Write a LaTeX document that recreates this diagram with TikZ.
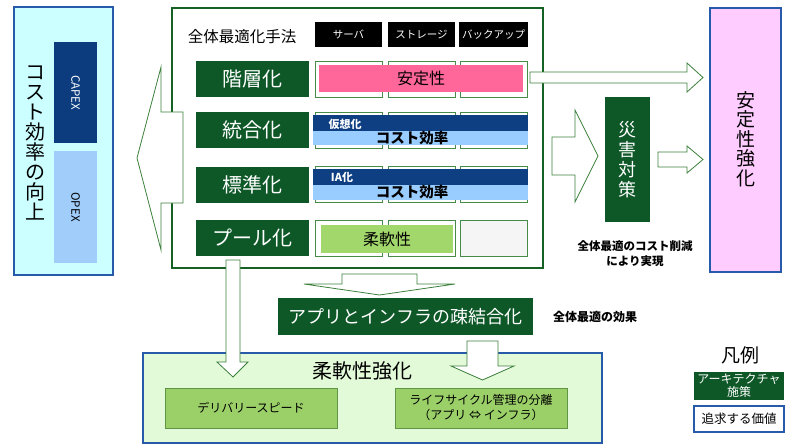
\documentclass[tikz,border=0pt]{standalone}
\usepackage{fontspec}
\setmainfont{Noto Sans CJK JP}
\usepackage{xcolor}
\usetikzlibrary{positioning}

\newcommand{\fsz}[2]{\fontsize{#1}{#2}\selectfont}

\definecolor{archgreen}{RGB}{14,88,40}
\definecolor{framegreen}{RGB}{22,98,36}
\definecolor{cellgreen}{RGB}{70,140,70}
\definecolor{arrowgreen}{RGB}{60,128,60}
\definecolor{valueblue}{RGB}{40,90,170}
\definecolor{capexblue}{RGB}{12,60,125}
\definecolor{opexblue}{RGB}{160,205,250}
\definecolor{bandblue}{RGB}{15,63,131}
\definecolor{bandlight}{RGB}{153,204,255}
\definecolor{stablepink}{RGB}{255,102,153}
\definecolor{costcyan}{RGB}{204,255,255}
\definecolor{stablelilac}{RGB}{255,204,255}
\definecolor{flexfill}{RGB}{226,250,216}
\definecolor{flexbar}{RGB}{162,215,108}
\definecolor{subgreen}{RGB}{155,208,104}
\definecolor{subedge}{RGB}{95,150,70}

\tikzset{
  arch/.style={fill=archgreen, text=white, inner sep=0pt},
  value/.style={draw=valueblue, line width=2pt, inner sep=0pt},
  rowlbl/.style={arch, minimum width=113, minimum height=36, font=\fsz{20}{20}},
  cell/.style={draw=cellgreen, fill=white, line width=0.8pt, minimum width=67, minimum height=36},
  colhead/.style={fill=black, text=white, minimum width=67, minimum height=25, font=\fsz{10.5}{12}},
  band/.style={inner sep=0pt, minimum width=215},
  subbox/.style={draw=subedge, fill=subgreen, line width=0.8pt, minimum width=172, minimum height=40, align=center, font=\fsz{12}{15}},
  blockarrow/.style={draw=arrowgreen, fill=white, line width=0.8pt, line join=miter},
  note/.style={font=\bfseries\fsz{12}{15}, align=center}
}

\begin{document}
\begin{tikzpicture}[x=1pt,y=-1pt]
\useasboundingbox (0,0) rectangle (800,447);

% left: cost efficiency
\node[value, fill=costcyan, minimum width=99, minimum height=268] (cost) at (63.5,141) {};
\node[align=center, font=\fsz{20}{20}] (costtxt) at (35,143) {コ\\ス\\ト\\効\\率\\の\\向\\上};
\node[fill=capexblue, text=white, rotate=-90, minimum width=101, minimum height=43, font=\fsz{11.5}{13}] (capex) at (75.5,92.5) {CAPEX};
\node[fill=opexblue, rotate=-90, minimum width=112, minimum height=43, font=\fsz{11.5}{13}] (opex) at (75.5,207) {OPEX};

% main frame
\node[draw=framegreen, line width=2.2pt, minimum width=371, minimum height=260] (frame) at (357.5,138) {};
\node[font=\fsz{15.5}{18}] (method) at (242,37) {全体最適化手法};
\node[colhead] (hsrv) at (348.5,34.5) {サーバ};
\node[colhead] (hstg) at (421.5,34.5) {ストレージ};
\node[colhead] (hbak) at (493.5,34.5) {バックアップ};

\foreach \lbl/\y [count=\i] in {階層化/79, 統合化/130, 標準化/184.5, プール化/238}{
  \node[rowlbl] (row\i) at (252.5,\y) {\lbl};
  \foreach \x [count=\j] in {348.5, 421.5, 493.5}
    \node[cell] (c\i\j) at (\x,\y) {};
}
\node[cell, fill=gray!8] at (c43) {};

% bars in the grid
\node[fill=stablepink, inner sep=0pt, minimum width=204, minimum height=27, font=\fsz{16}{18}] (stab) at (421,78.5) {安定性};
\node[band, fill=bandblue, minimum height=16] (virt) at (420.5,123) {};
\node[band, fill=bandlight, minimum height=14] (virtcost) at (420.5,138) {};
\node[text=white, font=\bfseries\fsz{11}{12}] (virttxt) at (345,124) {仮想化};
\node[font=\bfseries\fsz{14.5}{16}] (cost1) at (412,138.5) {コスト効率};
\node[band, fill=bandblue, minimum height=16] (ia) at (420.5,177) {};
\node[band, fill=bandlight, minimum height=15] (iacost) at (420.5,192.5) {};
\node[text=white, font=\bfseries\fsz{11}{12}] (iatxt) at (342,177) {IA化};
\node[font=\bfseries\fsz{14.5}{16}] (cost2) at (412,192.5) {コスト効率};
\node[fill=flexbar, inner sep=0pt, minimum width=132, minimum height=28, font=\fsz{16}{18}] (flex) at (387,239) {柔軟性};

% right side
\node[value, fill=stablelilac, minimum width=71, minimum height=264] (stable) at (745.5,140) {};
\node[align=center, font=\fsz{19}{19.5}] (stabletxt) at (745.5,139) {安\\定\\性\\強\\化};
\node[arch, minimum width=45, minimum height=125, align=center, font=\fsz{18}{20}] (dr) at (627.5,159.5) {災\\害\\対\\策};
\node[note, font=\bfseries\fsz{11.5}{15}] (drnote) at (635,254) {全体最適のコスト削減\\により実現};

% bottom
\node[arch, minimum width=255, minimum height=37, font=\fsz{18}{20}] (loose) at (405.5,316.5) {アプリとインフラの疎結合化};
\node[note] (effect) at (595,317) {全体最適の効果};
\node[value, fill=flexfill, minimum width=459, minimum height=90] (flexbox) at (372.5,398) {};
\node[font=\fsz{20}{20}] (flextxt) at (362,371) {柔軟性強化};
\node[subbox] (deliv) at (251,408) {デリバリースピード};
\node[subbox] (life) at (481,408) {ライフサイクル管理の分離\\（アプリ ⇔ インフラ）};

% legend
\node[font=\fsz{19}{20}] (legend) at (740,355) {凡例};
\node[arch, minimum width=90, minimum height=28, align=center, font=\fsz{12}{13}] (legarch) at (739,386) {アーキテクチャ\\施策};
\node[value, fill=white, minimum width=90, minimum height=26, font=\fsz{12.5}{14}] (legval) at (739,419) {追求する価値};

% block arrows
\draw[blockarrow] (183,112) -- (161,112) -- (161,67) -- (137,158) -- (161,250) -- (161,203) -- (183,203) -- cycle;
\draw[blockarrow] (530,72) -- (687,72) -- (687,63) -- (703,77.5) -- (687,92) -- (687,83) -- (530,83) -- cycle;
\draw[blockarrow] (552,137) -- (575,137) -- (575,110) -- (598,156) -- (575,202) -- (575,175) -- (552,175) -- cycle;
\draw[blockarrow] (658,152) -- (687,152) -- (687,146) -- (703,159.5) -- (687,173) -- (687,167) -- (658,167) -- cycle;
\draw[blockarrow] (342,274) -- (417,274) -- (417,284) -- (455,284) -- (379.5,295) -- (304,284) -- (342,284) -- cycle;
\draw[blockarrow] (226,260) -- (240,260) -- (240,362) -- (248,362) -- (233,377) -- (217,362) -- (226,362) -- cycle;
\draw[blockarrow] (467,341) -- (498,341) -- (498,366) -- (514,366) -- (482.5,380) -- (451,366) -- (467,366) -- cycle;
\end{tikzpicture}
\end{document}
